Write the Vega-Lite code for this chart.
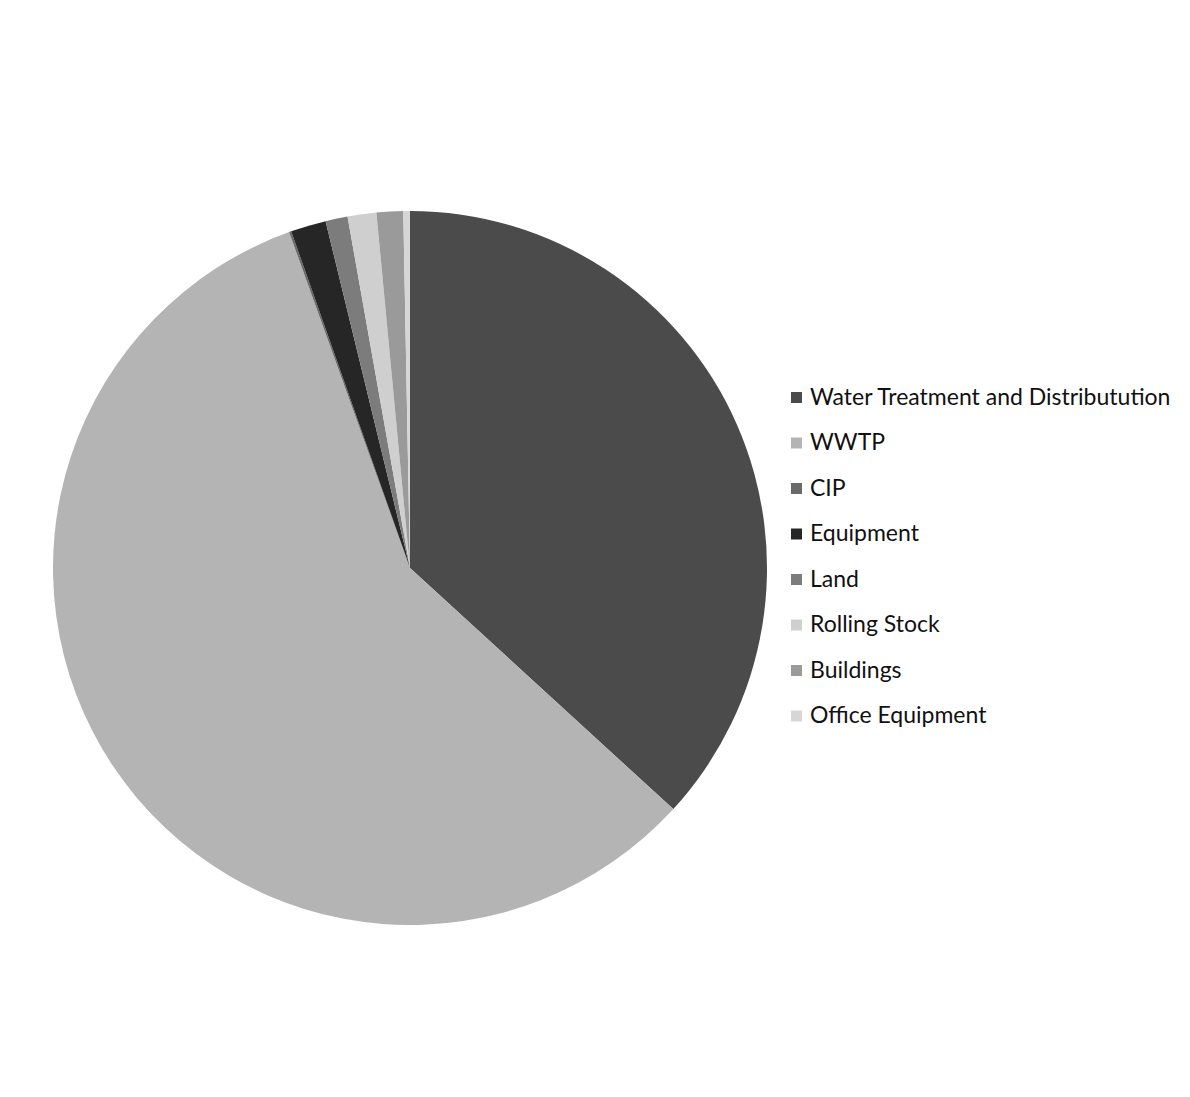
{
  "$schema": "https://vega.github.io/schema/vega-lite/v6.json",
  "width": 720,
  "height": 710,
  "padding": {"left": 50, "top": 211, "right": 0, "bottom": 0},
  "background": "white",
  "config": {
    "view": {"stroke": null, "fill": "#fcfcfc"},
    "font": "Lato"
  },
  "data": {
    "values": [
      {"idx": 1, "category": "Water Treatment and Distributution", "share": 36.8},
      {"idx": 2, "category": "WWTP", "share": 57.7},
      {"idx": 3, "category": "CIP", "share": 0.1},
      {"idx": 4, "category": "Equipment", "share": 1.6},
      {"idx": 5, "category": "Land", "share": 1.0},
      {"idx": 6, "category": "Rolling Stock", "share": 1.3},
      {"idx": 7, "category": "Buildings", "share": 1.2},
      {"idx": 8, "category": "Office Equipment", "share": 0.3}
    ]
  },
  "mark": {"type": "arc", "outerRadius": 357},
  "encoding": {
    "theta": {"field": "share", "type": "quantitative", "stack": true},
    "order": {"field": "idx", "type": "quantitative"},
    "color": {
      "field": "category",
      "type": "nominal",
      "sort": {"field": "idx"},
      "scale": {
        "domain": ["Water Treatment and Distributution", "WWTP", "CIP", "Equipment", "Land", "Rolling Stock", "Buildings", "Office Equipment"],
        "range": ["#4b4b4b", "#b4b4b4", "#6a6a6a", "#262626", "#7c7c7c", "#cfcfcf", "#9a9a9a", "#d6d6d6"]
      },
      "legend": {
        "title": null,
        "orient": "none",
        "legendX": 735,
        "legendY": 173,
        "padding": 0,
        "symbolType": "square",
        "symbolSize": 121,
        "symbolStrokeWidth": 0,
        "labelFontSize": 23,
        "labelColor": "#111111",
        "labelOffset": 2,
        "labelLimit": 500,
        "rowPadding": 21.5
      }
    }
  }
}
